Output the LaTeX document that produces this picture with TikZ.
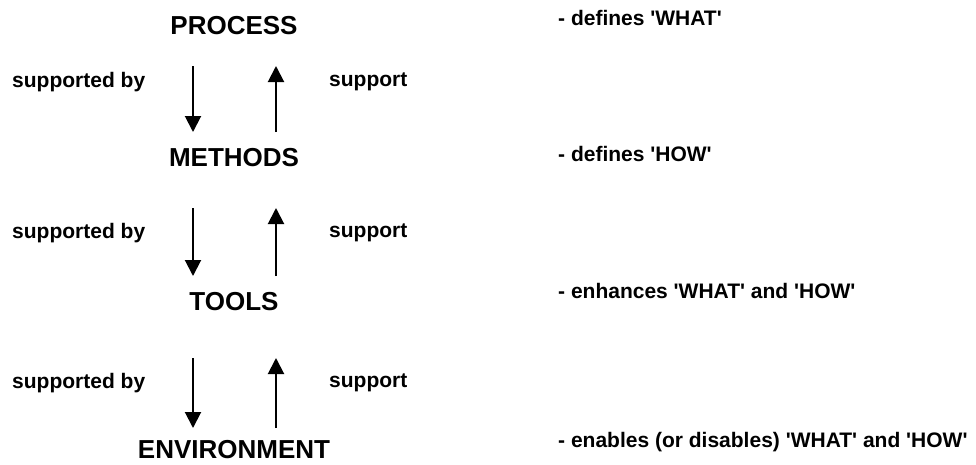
\documentclass[tikz,border=0pt]{standalone}
\usepackage{fontspec}
\setmainfont{Liberation Sans}
\usetikzlibrary{arrows.meta}
\newcommand\sq{\textquotesingle}
\tikzset{
  level/.style={font=\fontsize{26}{30}\selectfont\bfseries, inner sep=0pt},
  note/.style={font=\fontsize{21}{24}\selectfont\bfseries, inner sep=0pt, anchor=west},
  flow/.style={line width=2pt, -{Triangle[width=16pt,length=16pt]}}
}
\begin{document}
\begin{tikzpicture}[x=1pt,y=-1pt]
\useasboundingbox (0,0) rectangle (976,464);
% levels
\node[level] (proc) at (234,26) {PROCESS};
\node[level] (meth) at (234,158) {METHODS};
\node[level] (tool) at (234,302) {TOOLS};
\node[level] (env) at (234,450) {ENVIRONMENT};
% descriptions
\node[note] (dproc) at (558,18) {- defines \sq WHAT\sq};
\node[note] (dmeth) at (558,154) {- defines \sq HOW\sq};
\node[note] (dtool) at (558,291) {- enhances \sq WHAT\sq{} and \sq HOW\sq};
\node[note] (denv) at (558,442) {- enables (or disables) \sq WHAT\sq{} and \sq HOW\sq};
% arrows between levels
\foreach \n/\t/\b in {1/66/132, 2/208/276, 3/358/428}{
  \coordinate (dn\n a) at (193,\t); \coordinate (dn\n b) at (193,\b);
  \coordinate (up\n a) at (276,\b); \coordinate (up\n b) at (276,\t);
  \draw[flow] (dn\n a) -- (dn\n b);
  \draw[flow] (up\n a) -- (up\n b);
}
\node[note] (sb1) at (12,82) {supported by};
\node[note] (sp1) at (329,82) {support};
\node[note] (sb2) at (12,233) {supported by};
\node[note] (sp2) at (329,233) {support};
\node[note] (sb3) at (12,383) {supported by};
\node[note] (sp3) at (329,383) {support};
\end{tikzpicture}
\end{document}
